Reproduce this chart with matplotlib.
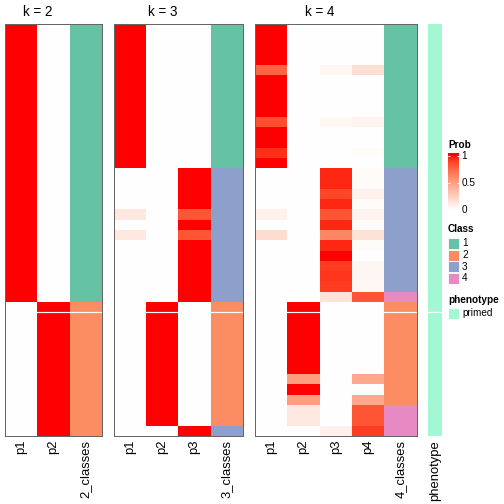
import numpy as np
import matplotlib
matplotlib.use("Agg")
import matplotlib.pyplot as plt
from matplotlib.colors import ListedColormap, to_rgb
from matplotlib.patches import Rectangle

plt.rcParams['font.family'] = ['Liberation Sans', 'DejaVu Sans']

# ---- data (40 samples, rows top to bottom) ----
k2_p1 = [1, 1, 1, 1, 1, 1, 1, 1, 1, 1, 1, 1, 1, 1, 1, 1, 1, 1, 1, 1, 1, 1, 1, 1, 1, 1, 1,
         0, 0, 0, 0, 0, 0, 0, 0, 0, 0, 0, 0, 0]
k2_p2 = [0, 0, 0, 0, 0, 0, 0, 0, 0, 0, 0, 0, 0, 0, 0, 0, 0, 0, 0, 0, 0, 0, 0, 0, 0, 0, 0,
         1, 1, 1, 1, 1, 1, 1, 1, 1, 1, 1, 1, 1]
k2_class = [1, 1, 1, 1, 1, 1, 1, 1, 1, 1, 1, 1, 1, 1, 1, 1, 1, 1, 1, 1, 1, 1, 1, 1, 1, 1, 1,
            2, 2, 2, 2, 2, 2, 2, 2, 2, 2, 2, 2, 2]

k3_p1 = [1, 1, 1, 1, 1, 1, 1, 1, 1, 1, 1, 1, 1, 1,
         0, 0, 0, 0, 0.12, 0, 0.12, 0, 0, 0, 0, 0, 0,
         0, 0, 0, 0, 0, 0, 0, 0, 0, 0, 0, 0, 0]
k3_p2 = [0, 0, 0, 0, 0, 0, 0, 0, 0, 0, 0, 0, 0, 0,
         0, 0, 0, 0, 0, 0, 0, 0, 0, 0, 0, 0, 0,
         1, 1, 1, 1, 1, 1, 1, 1, 1, 1, 1, 1, 0]
k3_p3 = [0, 0, 0, 0, 0, 0, 0, 0, 0, 0, 0, 0, 0, 0,
         1, 1, 1, 1, 0.82, 1, 0.82, 1, 1, 1, 1, 1, 1,
         0, 0, 0, 0, 0, 0, 0, 0, 0, 0, 0, 0, 1]
k3_class = [1, 1, 1, 1, 1, 1, 1, 1, 1, 1, 1, 1, 1, 1,
            3, 3, 3, 3, 3, 3, 3, 3, 3, 3, 3, 3, 3,
            2, 2, 2, 2, 2, 2, 2, 2, 2, 2, 2, 2, 3]

k4_p1 = [1, 1, 1, 1, 0.76, 1, 1, 1, 1, 0.84, 1, 1, 0.93, 1,
         0, 0, 0, 0, 0.08, 0, 0.18, 0, 0, 0, 0, 0, 0,
         0, 0, 0, 0, 0, 0, 0, 0, 0, 0, 0, 0, 0]
k4_p2 = [0, 0, 0, 0, 0, 0, 0, 0, 0, 0, 0, 0, 0, 0,
         0, 0, 0, 0, 0, 0, 0, 0, 0, 0, 0, 0, 0,
         1, 1, 1, 1, 1, 1, 1, 0.5, 1, 0.5, 0.12, 0.12, 0]
k4_p3 = [0, 0, 0, 0, 0.05, 0, 0, 0, 0, 0.04, 0, 0, 0, 0,
         0.95, 0.95, 0.87, 0.95, 0.82, 0.95, 0.62, 0.95, 1, 0.9, 0.92, 0.9, 0.15,
         0, 0, 0, 0, 0, 0, 0, 0, 0, 0, 0, 0, 0.08]
k4_p4 = [0, 0, 0, 0, 0.17, 0, 0, 0, 0, 0.06, 0, 0, 0.02, 0,
         0.02, 0.02, 0.08, 0.02, 0.06, 0.02, 0.15, 0.02, 0, 0.05, 0.05, 0.04, 0.82,
         0, 0, 0, 0, 0, 0, 0, 0.45, 0, 0.45, 0.82, 0.82, 0.9]
k4_class = [1, 1, 1, 1, 1, 1, 1, 1, 1, 1, 1, 1, 1, 1,
            3, 3, 3, 3, 3, 3, 3, 3, 3, 3, 3, 3, 4,
            2, 2, 2, 2, 2, 2, 2, 2, 2, 2, 4, 4, 4]

phenotype = ["primed"] * 40

class_colors = {1: "#66C2A5", 2: "#FC8D62", 3: "#8DA0CB", 4: "#E78AC3"}
pheno_colors = {"primed": "#A3F8D4"}
W = H = 504


# white -> red ramp interpolated in LAB space
def srgb_to_lab(rgb):
    c = np.asarray(rgb, float)
    lin = np.where(c <= 0.04045, c / 12.92, ((c + 0.055) / 1.055) ** 2.4)
    M = np.array([[0.4124, 0.3576, 0.1805], [0.2126, 0.7152, 0.0722], [0.0193, 0.1192, 0.9505]])
    xyz = M @ lin / np.array([0.95047, 1.0, 1.08883])
    f = np.where(xyz > 0.008856, np.cbrt(xyz), 7.787 * xyz + 16 / 116)
    return np.array([116 * f[1] - 16, 500 * (f[0] - f[1]), 200 * (f[1] - f[2])])


def lab_to_srgb(lab):
    L, a, b = lab
    fy = (L + 16) / 116
    f = np.array([fy + a / 500, fy, fy - b / 200])
    xyz = np.where(f ** 3 > 0.008856, f ** 3, (f - 16 / 116) / 7.787) * np.array([0.95047, 1.0, 1.08883])
    Minv = np.array([[3.2406, -1.5372, -0.4986], [-0.9689, 1.8758, 0.0415], [0.0557, -0.2040, 1.0570]])
    lin = np.clip(Minv @ xyz, 0, 1)
    return np.clip(np.where(lin <= 0.0031308, 12.92 * lin, 1.055 * lin ** (1 / 2.4) - 0.055), 0, 1)


lab_w, lab_r = srgb_to_lab([1, 1, 1]), srgb_to_lab([1, 0, 0])
prob_cmap = ListedColormap([lab_to_srgb((1 - t) * lab_w + t * lab_r) for t in np.linspace(0, 1, 256)])


def px_axes(x0, y0, x1, y1):
    return fig.add_axes([x0 / W, 1 - y1 / H, (x1 - x0) / W, (y1 - y0) / H])


fig = plt.figure(figsize=(7, 7), dpi=72)
top, bottom = 24, 436

panels = [
    ("k = 2", [k2_p1, k2_p2], k2_class, (5, 102)),
    ("k = 3", [k3_p1, k3_p2, k3_p3], k3_class, (114, 243)),
    ("k = 4", [k4_p1, k4_p2, k4_p3, k4_p4], k4_class, (255, 417)),
]

for title, probs, classes, (x0, x1) in panels:
    n = len(classes)
    ncol = len(probs) + 1
    img = np.ones((n, ncol, 3))
    for j, col in enumerate(probs):
        img[:, j] = prob_cmap(np.array(col, float))[:, :3]
    img[:, -1] = [to_rgb(class_colors[c]) for c in classes]
    ax = px_axes(x0, top, x1, bottom)
    ax.imshow(img, aspect='auto', interpolation='nearest', extent=(0, ncol, n, 0))
    ax.axhline(28, color='white', lw=1.2)
    labels = ["p%d" % (j + 1) for j in range(len(probs))] + ["%d_classes" % len(probs)]
    ax.set_xticks(np.arange(ncol) + 0.5)
    ax.set_xticklabels(labels, rotation=90, fontsize=13)
    ax.set_yticks([])
    ax.tick_params(length=0, pad=4)
    for s in ax.spines.values():
        s.set_color('#666666')
        s.set_linewidth(1)
    ax.annotate(title, xy=(len(probs) / 2, 1), xycoords=('data', 'axes fraction'),
                xytext=(0, 5), textcoords='offset points', ha='center', va='bottom', fontsize=13.5)

# phenotype annotation column
axp = px_axes(428, top, 442, bottom)
pimg = np.array([[to_rgb(pheno_colors[p])] for p in phenotype])
axp.imshow(pimg, aspect='auto', interpolation='nearest', extent=(0, 1, len(phenotype), 0))
axp.axhline(28, color='white', lw=1.2)
axp.set_xticks([0.5])
axp.set_xticklabels(["phenotype"], rotation=90, fontsize=13)
axp.set_yticks([])
axp.tick_params(length=0, pad=4)
for s in axp.spines.values():
    s.set_visible(False)

# legends
leg = fig.add_axes([0, 0, 1, 1])
leg.set_xlim(0, W)
leg.set_ylim(H, 0)
leg.axis('off')

leg.text(448, 145, "Prob", fontsize=10, fontweight='bold', va='center')
cb = px_axes(448, 153, 459, 210)
grad = np.clip(np.linspace(1.06, 0, 200), 0, 1)[:, None]
cb.imshow(grad, cmap=prob_cmap, vmin=0, vmax=1, aspect='auto', extent=(0, 1, 0, 1.06))
cb.set_xlim(0, 1)
cb.set_ylim(0, 1.06)
for v in [0.5, 1]:
    cb.hlines(v, 0, 0.2, color='white', lw=1)
    cb.hlines(v, 0.8, 1, color='white', lw=1)
for v, lab in [(0, "0"), (0.5, "0.5"), (1, "1")]:
    cb.text(1.25, v, lab, va='center', ha='left', fontsize=10)
cb.axis('off')

leg.text(448, 229, "Class", fontsize=10, fontweight='bold', va='center')
for i, c in enumerate(sorted(class_colors)):
    y = 238 + i * 11.5
    leg.add_patch(Rectangle((448, y), 11, 11, facecolor=class_colors[c], edgecolor='white', lw=0.8))
    leg.text(462, y + 5.5, str(c), fontsize=10, va='center')

leg.text(448, 300, "phenotype", fontsize=10, fontweight='bold', va='center')
leg.add_patch(Rectangle((448, 308), 11, 11, facecolor=pheno_colors["primed"], edgecolor='white', lw=0.8))
leg.text(462, 313.5, "primed", fontsize=10, va='center')

fig.savefig("out.png", dpi=72)
